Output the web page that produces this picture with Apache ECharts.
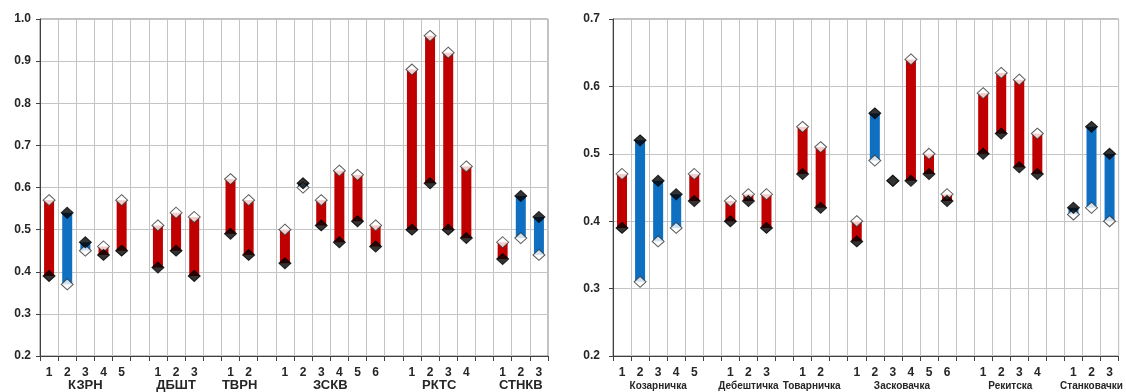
<!DOCTYPE html>
<html><head><meta charset="utf-8">
<script src="https://cdn.jsdelivr.net/npm/echarts@6/dist/echarts.min.js"></script>
<style>html,body{margin:0;padding:0;background:#fff}#c{width:1126px;height:392px}</style>
</head><body><div id="c"></div>
<script>
// ---- data ----
const leftGroups = ['КЗРН', 'ДБШТ', 'ТВРН', 'ЗСКВ', 'РКТС', 'СТНКВ'];
const leftWhite = [[0.57, 0.37, 0.45, 0.46, 0.57], [0.51, 0.54, 0.53], [0.62, 0.57], [0.50, 0.60, 0.57, 0.64, 0.63, 0.51], [0.88, 0.96, 0.92, 0.65], [0.47, 0.48, 0.44]];
const leftBlack = [[0.39, 0.54, 0.47, 0.44, 0.45], [0.41, 0.45, 0.39], [0.49, 0.44], [0.42, 0.61, 0.51, 0.47, 0.52, 0.46], [0.50, 0.61, 0.50, 0.48], [0.43, 0.58, 0.53]];
const rightGroups = ['Козарничка', 'Дебештичка', 'Товарничка', 'Засковачка', 'Рекитска', 'Станковачки'];
const rightWhite = [[0.47, 0.31, 0.37, 0.39, 0.47], [0.43, 0.44, 0.44], [0.54, 0.51], [0.40, 0.49, 0.46, 0.64, 0.50, 0.44], [0.59, 0.62, 0.61, 0.53], [0.41, 0.42, 0.40]];
const rightBlack = [[0.39, 0.52, 0.46, 0.44, 0.43], [0.40, 0.43, 0.39], [0.47, 0.42], [0.37, 0.56, 0.46, 0.46, 0.47, 0.43], [0.50, 0.53, 0.48, 0.47], [0.42, 0.54, 0.50]];
const leftY = {min: 0.2, max: 1.0, interval: 0.1};
const rightY = {min: 0.2, max: 0.7, interval: 0.1};

const RED = '#C00000', BLUE = '#0F6FC0';

function build(groups, white, black) {
  const cats = [], pairs = [], centers = {};
  let idx = 0;
  groups.forEach((g, gi) => {
    if (gi > 0) { cats.push(''); idx++; }
    const start = idx;
    white[gi].forEach((w, k) => {
      cats.push(String(k + 1));
      pairs.push([idx, w, black[gi][k]]);
      idx++;
    });
    centers[(start + idx) / 2] = g;
  });
  return {cats, pairs, centers, n: idx};
}
const L = build(leftGroups, leftWhite, leftBlack);
const R = build(rightGroups, rightWhite, rightBlack);

const labelFont = {fontFamily: 'Liberation Sans', fontWeight: 'bold', color: '#262626'};

function axesFor(gi, B, groupSize, groupOffset) {
  return [
    {type: 'category', gridIndex: gi, data: B.cats, boundaryGap: true,
     axisLine: {show: true, lineStyle: {color: '#404040', width: 1}},
     axisTick: {show: true, length: 5, interval: 0, lineStyle: {color: '#404040'}},
     axisLabel: Object.assign({interval: 0, fontSize: 12, margin: 11}, labelFont),
     splitLine: {show: true, interval: 0, lineStyle: {color: '#c4c4c4', width: 1}}},
    {type: 'value', gridIndex: gi, min: 0, max: B.n, interval: 0.5, position: 'bottom', offset: groupOffset,
     axisLine: {show: false}, axisTick: {show: false}, splitLine: {show: false},
     axisLabel: Object.assign({fontSize: groupSize, margin: 0, showMinLabel: true, showMaxLabel: true,
       formatter: v => B.centers[v] || ''}, labelFont)}
  ];
}

function yFor(gi, Y, margin) {
  return {type: 'value', gridIndex: gi, min: Y.min, max: Y.max, interval: Y.interval,
    axisLine: {show: true, lineStyle: {color: '#404040'}},
    axisTick: {show: true, length: 4, lineStyle: {color: '#404040'}},
    axisLabel: Object.assign({fontSize: 12, margin: margin, formatter: v => v.toFixed(1)}, labelFont),
    splitLine: {show: true, lineStyle: {color: '#c4c4c4', width: 1}}};
}

function seriesFor(xi, yi, B) {
  return [
    {type: 'custom', xAxisIndex: xi, yAxisIndex: yi, z: 2,
     data: B.pairs,
     encode: {x: 0, y: [1, 2]},
     renderItem: (params, api) => {
       const x = api.value(0), w = api.value(1), b = api.value(2);
       const p1 = api.coord([x, Math.max(w, b)]);
       const p2 = api.coord([x, Math.min(w, b)]);
       const bw = 10;
       return {type: 'rect', shape: {x: p1[0] - bw / 2, y: p1[1], width: bw, height: p2[1] - p1[1]},
         style: {fill: w >= b ? RED : BLUE}};
     }},
    {type: 'scatter', xAxisIndex: xi, yAxisIndex: yi, z: 3, symbol: 'diamond', symbolSize: [12, 11],
     data: B.pairs.map(p => [p[0], p[1]]),
     itemStyle: {color: '#ffffff', borderColor: '#333', borderWidth: 1}},
    {type: 'scatter', xAxisIndex: xi, yAxisIndex: yi, z: 4, symbol: 'diamond', symbolSize: [12, 11],
     data: B.pairs.map(p => [p[0], p[2]]),
     itemStyle: {color: '#000000', borderColor: '#000', borderWidth: 1}}
  ];
}

const chart = echarts.init(document.getElementById('c'), null, {renderer: 'canvas'});
chart.setOption({
  animation: false,
  backgroundColor: '#ffffff',
  grid: [
    {left: 40, top: 19, width: 508, height: 338, show: true, borderColor: '#808080', borderWidth: 1, backgroundColor: 'transparent'},
    {left: 613, top: 19, width: 508, height: 337, show: true, borderColor: '#808080', borderWidth: 1, backgroundColor: 'transparent'}
  ],
  xAxis: [].concat(axesFor(0, L, 13, 23), axesFor(1, R, 10, 25)),
  yAxis: [yFor(0, leftY, 9), yFor(1, rightY, 13)],
  series: [].concat(seriesFor(0, 0, L), seriesFor(2, 1, R))
});
</script></body></html>
